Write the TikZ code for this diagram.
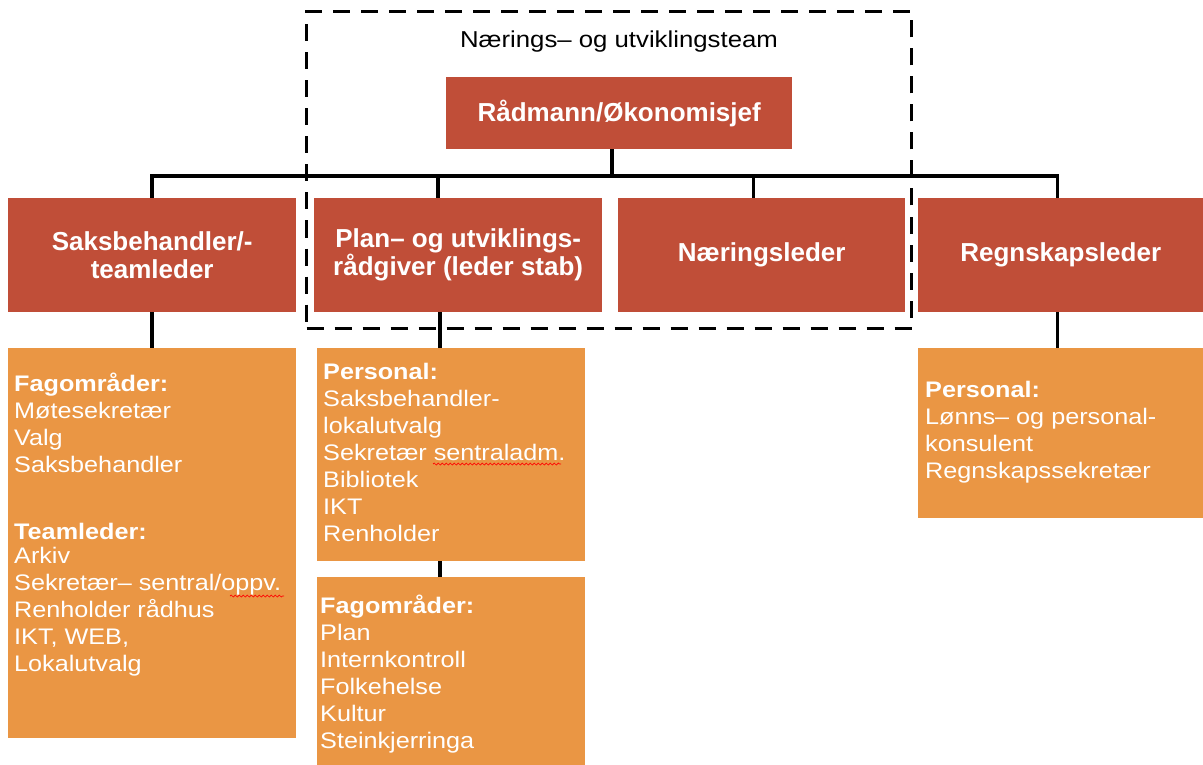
\documentclass[tikz,border=0pt]{standalone}
\usepackage{fontspec}
\setmainfont{Liberation Sans}
\newfontfamily\bodyfont{Liberation Sans}[FakeStretch=1.12]
\usepackage{xcolor}
\usetikzlibrary{decorations.pathmorphing}
\definecolor{rust}{HTML}{C04E38}
\definecolor{amber}{HTML}{EA9644}

\begin{document}
\begin{tikzpicture}[x=1pt, y=-1pt,
    lead/.style = {fill=rust, text=white, inner sep=0pt, anchor=north west,
        align=center, font=\fontsize{26}{28}\selectfont\bfseries},
    sub/.style = {fill=amber, inner sep=0pt, anchor=north west},
    txt/.style = {text=white, inner sep=0pt, anchor=north west, align=left,
        font=\bodyfont\fontsize{22.5}{27}\selectfont},
    conn/.style = {line width=3.5pt},
    team/.style = {draw, line width=3pt, dash pattern=on 17pt off 11pt, inner sep=0pt, anchor=north west},
    typo/.style = {red, line width=0.7pt, decorate, decoration={snake, amplitude=1pt, segment length=4pt}}]
\useasboundingbox (0,0) rectangle (1203,765);

\node[team, minimum width=605pt, minimum height=317pt] (nut) at (305,10) {};
\node[anchor=base, font=\bodyfont\fontsize{23}{27}\selectfont] (nuttitle) at (619,48) {Nærings– og utviklingsteam};

\node[lead, minimum width=346pt, minimum height=72pt] (chief) at (446,77) {Rådmann/Økonomisjef};

\node[lead, minimum width=288pt, minimum height=114pt] (saks) at (8,198) {Saksbehandler/-\\teamleder};
\node[lead, minimum width=288pt, minimum height=114pt] (plan) at (314,198) {Plan– og utviklings-\\rådgiver (leder stab)};
\node[lead, minimum width=287pt, minimum height=114pt] (naer) at (618,198) {Næringsleder};
\node[lead, minimum width=285pt, minimum height=114pt] (regn) at (918,198) {Regnskapsleder};

\node[sub, minimum width=288pt, minimum height=390pt] (fag1) at (8,348) {};
\node[sub, minimum width=268pt, minimum height=213pt] (pers1) at (317,348) {};
\node[sub, minimum width=268pt, minimum height=188pt] (fag2) at (317,577) {};
\node[sub, minimum width=285pt, minimum height=170pt] (pers2) at (918,348) {};

\node[txt] (fag1txt) at ([xshift=6pt, yshift=-25pt]fag1.north west)
    {\textbf{Fagområder:}\\Møtesekretær\\Valg\\Saksbehandler\\[40pt]
     \textbf{Teamleder:}\\[-3pt]Arkiv\\Sekretær– sentral/oppv.\\Renholder rådhus\\IKT, WEB,\\Lokalutvalg};
\node[txt] (pers1txt) at ([xshift=6pt, yshift=-15pt]pers1.north west)
    {\textbf{Personal:}\\Saksbehandler-\\lokalutvalg\\Sekretær sentraladm.\\Bibliotek\\IKT\\Renholder};
\node[txt] (fag2txt) at ([xshift=3pt, yshift=-18pt]fag2.north west)
    {\textbf{Fagområder:}\\Plan\\Internkontroll\\Folkehelse\\Kultur\\Steinkjerringa};
\node[txt] (pers2txt) at ([xshift=7pt, yshift=-33pt]pers2.north west)
    {\textbf{Personal:}\\Lønns– og personal-\\konsulent\\Regnskapssekretær};

\coordinate (bus) at (612,176);
\draw[conn] (bus |- chief.south) -- (bus);
\draw[conn] (saks.north) |- (bus) -| ([xshift=-3pt]regn.north);
\draw[conn] ([xshift=-20pt]plan.north) -- ([xshift=-20pt]plan.north |- bus);
\draw[conn] ([xshift=-8pt]naer.north) -- ([xshift=-8pt]naer.north |- bus);

\draw[conn] (saks.south) -- (fag1.north);
\draw[conn] ([xshift=-11pt]pers1.north) -- ([xshift=-11pt]pers1.north |- plan.south);
\draw[conn] ([xshift=-11pt]pers1.south) -- ([xshift=-11pt]fag2.north);
\draw[conn] ([xshift=-3pt]regn.south) -- ([xshift=-3pt]pers2.north);

\draw[typo] (433,464) -- (561,464);
\draw[typo] (230,596) -- (284,596);
\end{tikzpicture}
\end{document}
